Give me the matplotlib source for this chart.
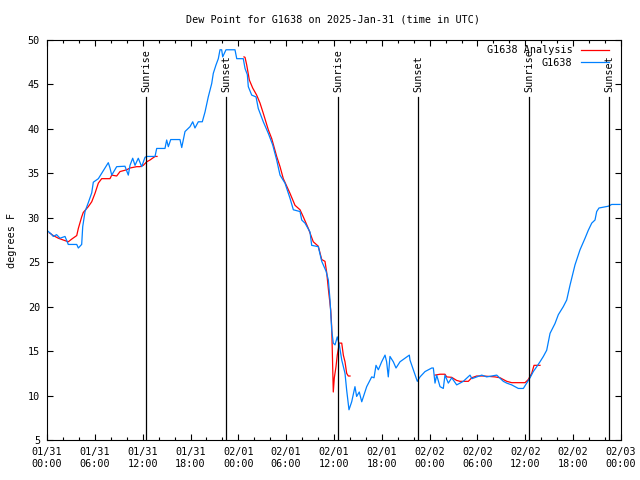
import matplotlib
matplotlib.use('Agg')
import matplotlib.pyplot as plt
import numpy as np

# hours since 2025-01-31 00:00 UTC, dew point in F
obs_hours = [0.10, 0.50, 0.79, 1.20, 1.63, 2.26, 2.67, 3.73, 3.93, 4.35, 4.48, 4.77, 5.18, 5.61, 5.81,
             6.44, 6.86, 7.28, 7.69, 7.90, 8.12, 8.74, 9.78, 10.20, 10.41, 10.75, 11.04, 11.45, 11.88,
             12.29, 12.51, 13.55, 13.76, 14.80, 15.01, 15.22, 15.52, 16.68, 16.90, 17.31, 17.94, 18.28,
             18.56, 18.98, 19.48, 19.82, 20.23, 20.66, 20.86, 21.20, 21.49, 21.70, 21.91, 22.04, 22.45,
             23.58, 23.80, 24.62, 24.84, 25.13, 25.25, 25.68, 26.22, 26.50, 27.13, 27.76, 28.31, 28.81,
             29.23, 29.85, 30.48, 30.90, 31.74, 31.95, 32.36, 32.99, 33.20, 34.03, 34.46, 35.00, 35.29,
             35.50, 35.71, 35.91, 36.13, 36.41, 36.67, 36.97, 37.38, 37.59, 37.88, 38.22, 38.63, 38.84,
             39.17, 39.48, 40.10, 40.73, 41.02, 41.27, 41.56, 41.98, 42.40, 42.60, 42.81, 43.02, 43.44,
             43.78, 44.28, 44.91, 45.45, 45.53, 45.95, 46.45, 46.79, 47.42, 48.26, 48.46, 48.67, 48.88,
             49.30, 49.71, 49.92, 50.34, 50.77, 51.39, 52.22, 53.06, 53.30, 53.90, 54.53, 55.15, 56.41,
             57.24, 57.67, 58.29, 59.12, 59.75, 60.17, 60.59, 61.00, 61.43, 61.84, 62.26, 62.68, 63.10,
             63.72, 64.14, 64.76, 65.19, 65.60, 66.23, 66.86, 67.49, 67.90, 68.33, 68.74, 68.95, 69.24,
             70.41, 70.83, 71.87]
obs_dewpt = [28.5, 28.2, 27.9, 28.1, 27.7, 27.9, 27.0, 27.0, 26.6, 27.0, 29.0, 30.7, 31.7, 32.8, 34.0,
             34.4, 35.0, 35.6, 36.2, 35.6, 34.8, 35.75, 35.8, 34.8, 35.9, 36.7, 35.9, 36.7, 35.75,
             36.8, 36.9, 36.9, 37.8, 37.8, 38.75, 38.0, 38.8, 38.8, 37.9, 39.7, 40.25, 40.8,
             40.1, 40.8, 40.8, 41.9, 43.6, 45.1, 46.25, 47.2, 47.9, 48.9, 48.9, 48.1, 48.9,
             48.9, 47.9, 47.9, 46.8, 46.1, 44.75, 43.8, 43.6, 42.3, 40.8, 39.5, 38.2, 36.5,
             34.8, 33.9, 32.2, 30.9, 30.7, 29.75, 29.4, 28.4, 26.9, 26.75, 25.1, 24.0, 23.0,
             20.75, 17.4, 15.9, 15.7, 16.6, 15.7, 14.0, 12.5, 10.6, 8.4, 9.3, 11.0, 9.9,
             10.4, 9.3, 11.0, 12.1, 12.0, 13.4, 12.9, 13.8, 14.55, 13.8, 12.1, 14.4, 13.8,
             13.1, 13.8, 14.2, 14.55, 14.0, 12.9, 11.6, 12.1, 12.7, 13.1, 13.1, 11.4, 12.3,
             11.0, 10.8, 12.3, 11.4, 12.0, 11.2, 11.6, 12.3, 11.9, 12.1, 12.3, 12.1, 12.3,
             11.6, 11.4, 11.2, 10.8, 10.8, 11.4, 12.0, 12.7, 13.25, 13.8, 14.4, 15.1, 17.0,
             18.1, 19.1, 20.0, 20.75, 22.4, 24.7, 26.4, 27.7, 28.6, 29.4, 29.75, 30.7, 31.1,
             31.3, 31.5, 31.5]

# analysis, gaps as nan
ana_hours = [0.30, 0.79, 1.42, 2.04, 2.67, 3.10, 3.73, 3.93, 4.35, 4.55, 5.18, 5.61, 6.02, 6.44, 6.86,
             7.90, 8.12, 8.74, 9.16, 10.00, 10.41, 11.25, 11.67, 12.08, 12.51, 12.92, 13.55, 13.80,
             np.nan,
             24.71, 24.84, 25.05, 25.38, 25.80, 26.30, 26.72, 27.13, 27.76, 28.19, 28.81, 29.23, 29.64,
             30.48, 31.11, 31.74, 32.15, 32.78, 33.40, 34.03, 34.46, 34.87, 35.09, 35.29, 35.59, 35.71,
             35.79, 35.91, 36.04, 36.25, 36.41, 36.67, 36.97, 37.17, 37.38, 37.59, 37.79, 38.01,
             np.nan,
             48.67, 49.30, 49.92, 50.13, 50.76, 51.39, 51.80, 52.85, 53.27, 53.90, 54.73, 56.20, 56.83,
             57.67, 58.29, 59.96, 60.37, 60.80, 61.09, 61.84]
ana_dewpt = [28.3, 28.0, 27.7, 27.5, 27.3, 27.6, 28.0, 28.8, 30.1, 30.6, 31.25, 31.8, 32.75, 33.9, 34.4,
             34.4, 34.8, 34.7, 35.2, 35.4, 35.6, 35.75, 35.75, 35.9, 36.3, 36.5, 36.9, 36.9,
             np.nan,
             48.1, 48.05, 47.2, 45.5, 44.6, 43.8, 42.9, 41.75, 39.9, 38.9, 36.9, 35.75, 34.4,
             32.75, 31.4, 30.9, 30.1, 28.8, 27.3, 26.8, 25.3, 25.1, 23.8, 22.0, 19.6, 17.75,
             14.9, 10.4, 12.0, 13.25, 14.55, 15.9, 15.9, 14.55, 13.8, 12.5, 12.2, 12.2,
             np.nan,
             12.3, 12.4, 12.4, 12.1, 12.05, 11.7, 11.6, 11.6, 12.0, 12.2, 12.2, 12.1, 12.0,
             11.6, 11.45, 11.45, 11.8, 12.5, 13.4, 13.4]

sun_hours = [12.46, 22.49, 36.54, 46.58, 60.50, 70.53]
sun_labels = ['Sunrise', 'Sunset', 'Sunrise', 'Sunset', 'Sunrise', 'Sunset']

tick_labels = ['01/31\n00:00', '01/31\n06:00', '01/31\n12:00', '01/31\n18:00',
               '02/01\n00:00', '02/01\n06:00', '02/01\n12:00', '02/01\n18:00',
               '02/02\n00:00', '02/02\n06:00', '02/02\n12:00', '02/02\n18:00', '02/03\n00:00']


def create_plot():
    plt.rcParams['font.family'] = 'DejaVu Sans Mono'
    plt.rcParams['font.size'] = 7.3
    fig = plt.figure(figsize=(6.4, 4.8), dpi=100, facecolor='white')
    ax = fig.add_axes([47/640, 40/480, 574/640, 400/480])

    ax.plot(ana_hours, ana_dewpt, color='#ff0000', linewidth=0.9, label='G1638 Analysis')
    ax.plot(obs_hours, obs_dewpt, color='#0080ff', linewidth=0.9, label='G1638')

    for h, lab in zip(sun_hours, sun_labels):
        ax.plot([h, h], [5, 43.6], color='black', linewidth=0.9)
        ax.text(h, 44.1, lab, rotation=90, ha='center', va='bottom')

    ax.set_xlim(0, 72)
    ax.set_ylim(5, 50)
    ax.set_xticks(np.arange(0, 73, 6))
    ax.set_xticklabels(tick_labels)
    ax.set_xticks(np.arange(0, 73, 2), minor=True)
    ax.set_yticks(np.arange(5, 51, 5))
    ax.tick_params(which='both', direction='in', top=True, right=True, width=0.8, pad=5)
    ax.tick_params(which='major', length=4.5)
    ax.tick_params(which='minor', length=2.5)
    for s in ax.spines.values():
        s.set_linewidth(0.8)

    ax.set_ylabel('degrees F', labelpad=8)
    fig.text(0.52, 0.96, 'Dew Point for G1638 on 2025-Jan-31 (time in UTC)', ha='center', va='center')

    ax.legend(loc='upper right', bbox_to_anchor=(1 - 5/574, 1 + 2/400), frameon=False, markerfirst=False,
              handlelength=2.8, borderaxespad=0.3, labelspacing=0.25, handletextpad=0.8)
    fig.savefig('out.png', dpi=100)


create_plot()
